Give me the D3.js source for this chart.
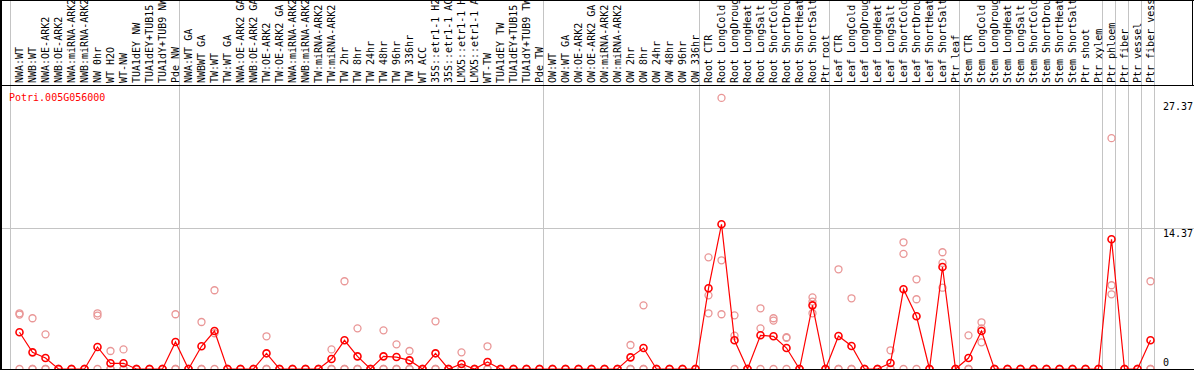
<!DOCTYPE html>
<html>
<head>
<meta charset="utf-8">
<script src="https://cdn.jsdelivr.net/npm/d3@7"></script>
<style>
  body { margin: 0; background: #fff; }
  svg { display: block; font-family: 'DejaVu Sans Mono', monospace; font-size: 10px; }
</style>
</head>
<body>
<div class="expression-chart"></div>
<script>
const geneName = 'Potri.005G056000';

const labels = [
  'NWA:WT', 'NWB:WT', 'NWA:OE-ARK2', 'NWB:OE-ARK2', 'NWA:miRNA-ARK2', 'NWB:miRNA-ARK2',
  'NW 0hr', 'WT H2O', 'WT-NW', 'TUA1dEY NW', 'TUA1dEY+TUB15 NW', 'TUA1dY+TUB9 NW', 'Pde NW',
  'NWA:WT GA', 'NWBWT GA', 'TW:WT', 'TW:WT GA', 'NWA:OE-ARK2 GA', 'NWB:OE-ARK2 GA',
  'TW:OE-ARK2', 'TW:OE-ARK2 GA', 'NWA:miRNA-ARK2', 'NWB:miRNA-ARK2', 'TW:miRNA-ARK2',
  'TW:miRNA-ARK2', 'TW 2hr', 'TW 8hr', 'TW 24hr', 'TW 48hr', 'TW 96hr', 'TW 336hr', 'WT ACC',
  '35S::etr1-1 H2O', '35S::etr1-1 ACC', 'LMX5::etr1-1 H2O', 'LMX5::etr1-1 ACC', 'WT-TW',
  'TUA1dEY TW', 'TUA1dEY+TUB15 TW', 'TUA1dY+TUB9 TW', 'Pde TW',
  'OW:WT', 'OW:WT GA', 'OW:OE-ARK2', 'OW:OE-ARK2 GA', 'OW:miRNA-ARK2', 'OW:miRNA-ARK2',
  'OW 2hr', 'OW 8hr', 'OW 24hr', 'OW 48hr', 'OW 96hr', 'OW 336hr',
  'Root CTR', 'Root LongCold', 'Root LongDrought', 'Root LongHeat', 'Root LongSalt',
  'Root ShortCold', 'Root ShortDrought', 'Root ShortHeat', 'Root ShortSalt', 'Ptr root',
  'Leaf CTR', 'Leaf LongCold', 'Leaf LongDrought', 'Leaf LongHeat', 'Leaf LongSalt',
  'Leaf ShortCold', 'Leaf ShortDrought', 'Leaf ShortHeat', 'Leaf ShortSalt', 'Ptr leaf',
  'Stem CTR', 'Stem LongCold', 'Stem LongDrought', 'Stem LongHeat', 'Stem LongSalt',
  'Stem ShortCold', 'Stem ShortDrought', 'Stem ShortHeat', 'Stem ShortSalt', 'Ptr shoot',
  'Ptr xylem', 'Ptr phloem', 'Ptr fiber', 'Ptr vessel', 'Ptr fiber vessel',
];

// mean expression per sample
const means = [
  3.75, 1.7, 1.12, 0, 0, 0, 2.25, 0.58, 0.58, 0,
  0, 0, 2.76, 0, 2.32, 3.88, 0, 0, 0, 1.6,
  0, 0, 0, 0, 1.02, 2.93, 1.29, 0, 1.29, 1.22,
  0.88, 0, 1.6, 0, 0.51, 0, 0.71, 0, 0, 0,
  0, 0, 0, 0, 0, 0, 0, 1.19, 2.14, 0,
  0, 0, 0, 8.24, 14.78, 2.93, 0, 3.44, 3.34, 2.14,
  0, 6.5, 0, 3.37, 2.35, 0, 0, 0.61, 8.14, 5.38,
  0, 10.42, 0, 1.12, 3.88, 0, 0, 0, 0, 0,
  0, 0, 0, 0, 13.25, 0, 0, 2.93,
];

// replicates
const rep1 = [
  5.69, 5.18, 3.54, 0, 0, 0, 5.69, 1.84, 2.0, 0,
  0, 0, 5.59, 0, 4.8, 8.04, 0, 0, 0, 3.34,
  0, 0, 0, 0, 2.0, 8.96, 4.15, 0, 3.95, 2.52,
  1.84, 0, 4.87, 0, 1.7, 0, 2.32, 0, 0, 0,
  0, 0, 0, 0, 0, 0, 0, 2.45, 6.5, 0,
  0, 0, 0, 11.4, 27.68, 5.48, 0, 6.2, 5.18, 3.24,
  0, 7.32, 0, 10.18, 7.22, 0, 0, 1.91, 12.94, 9.16,
  0, 11.92, 0, 3.44, 4.77, 0, 0, 0, 0, 0,
  0, 0, 0, 0, 23.57, 0, 0, 8.96,
];

const rep2 = [
  5.56, 0, 0, 0, 0, 0, 5.45, 0, 0, 0,
  0, 0, 0, 0, 0, 3.65, 0, 0, 0, 0,
  0, 0, 0, 0, 0, 0, 0, 0, 0, 0,
  0, 0, 0, 0, 0, 0, 0, 0, 0, 0,
  0, 0, 0, 0, 0, 0, 0, 0, 0, 0,
  0, 0, 0, 7.52, 11.1, 3.4, 0, 4.15, 4.94, 3.18,
  0, 6.88, 0, 0, 0, 0, 0, 0, 11.75, 7.12,
  0, 10.83, 0, 0, 4.15, 0, 0, 0, 0, 0,
  0, 0, 0, 0, 8.55, 0, 0, 0,
];

const rep3 = [
  0, 0, 0, 0, 0, 0, 0, 0, 0, 0,
  0, 0, 0, 0, 0, 0, 0, 0, 0, 0,
  0, 0, 0, 0, 0, 0, 0, 0, 0, 0,
  0, 0, 0, 0, 0, 0, 0, 0, 0, 0,
  0, 0, 0, 0, 0, 0, 0, 0, 0, 0,
  0, 0, 0, 5.69, 5.59, 0, 0, 0, 0, 0,
  0, 5.69, 0, 0, 0, 0, 0, 0, 0, 0,
  0, 8.3, 0, 0, 2.72, 0, 0, 0, 0, 0,
  0, 0, 0, 0, 7.63, 0, 0, 0,
];

// first sample of each group (separator lines go before them), last entry = end
const groupStarts = [0, 13, 41, 53, 63, 73, 84, 85, 86, 87, 88];

const yTicks = [0, 14.37, 27.37];
const yGridTicks = [14.37];

const width = 1194;
const height = 370;
const headerBottom = 85;
const plotBottom = 369;

const svg = d3.select('.expression-chart').append('svg')
  .attr('width', width)
  .attr('height', height);

const idx = d3.range(labels.length);

const x = d3.scaleBand()
  .domain(idx)
  .range([13, 13 + 13 * labels.length])
  .padding(0);

const y = d3.scaleLinear()
  .domain([0, 29])
  .range([plotBottom, headerBottom]);

const cx = (i) => x(i) + x.bandwidth() / 2;
const crisp = (v) => Math.floor(v) + 0.5;

// grid
svg.append('g')
  .selectAll('line')
  .data(groupStarts)
  .enter().append('line')
  .attr('x1', (k) => crisp(13 + 13 * k - 2.5))
  .attr('x2', (k) => crisp(13 + 13 * k - 2.5))
  .attr('y1', 0)
  .attr('y2', height)
  .style('stroke', '#c4c4c4');

svg.append('g')
  .selectAll('line')
  .data(yGridTicks)
  .enter().append('line')
  .attr('x1', 0)
  .attr('x2', width)
  .attr('y1', (d) => crisp(y(d)))
  .attr('y2', (d) => crisp(y(d)))
  .style('stroke', '#c4c4c4');

// sample labels
svg.append('g')
  .selectAll('text')
  .data(idx)
  .enter().append('text')
  .attr('transform', (i) => `translate(${cx(i) + 3},83) rotate(-90)`)
  .style('fill', '#000')
  .text((i) => labels[i]);

// y labels
svg.append('g')
  .selectAll('text')
  .data(yTicks)
  .enter().append('text')
  .attr('x', 1163)
  .attr('y', (d) => Math.min(y(d) + 9, 366))
  .style('fill', '#000')
  .text((d) => d);

svg.append('text')
  .attr('x', 9)
  .attr('y', 101)
  .style('fill', '#ff0000')
  .text(geneName);

// replicates
const reps = [rep1, rep2, rep3];
reps.forEach((rep) => {
  svg.append('g')
    .selectAll('circle')
    .data(idx)
    .enter().append('circle')
    .attr('cx', (i) => cx(i))
    .attr('cy', (i) => y(rep[i]))
    .attr('r', 3.5)
    .style('fill', 'none')
    .style('stroke', '#e99696')
    .style('stroke-width', 1.3);
});

// mean line
const line = d3.line()
  .x((i) => cx(i))
  .y((i) => y(means[i]));

svg.append('path')
  .datum(idx)
  .attr('d', line)
  .style('fill', 'none')
  .style('stroke', '#ff0000')
  .style('stroke-width', 1.2);

svg.append('g')
  .selectAll('circle')
  .data(idx)
  .enter().append('circle')
  .attr('cx', (i) => cx(i))
  .attr('cy', (i) => y(means[i]))
  .attr('r', 3.5)
  .style('fill', 'none')
  .style('stroke', '#ff0000')
  .style('stroke-width', 1.6);

// frame
const frame = svg.append('g').style('stroke', '#000');
frame.append('line').attr('x1', 0).attr('x2', width).attr('y1', 0.5).attr('y2', 0.5);
frame.append('line').attr('x1', 0).attr('x2', width).attr('y1', headerBottom + 0.5).attr('y2', headerBottom + 0.5);
frame.append('line').attr('x1', 0).attr('x2', width).attr('y1', plotBottom + 0.5).attr('y2', plotBottom + 0.5);
frame.append('line').attr('x1', 1).attr('x2', 1).attr('y1', 0).attr('y2', height).style('stroke-width', 2);
frame.append('line').attr('x1', width - 1.5).attr('x2', width - 1.5).attr('y1', 0).attr('y2', headerBottom);
</script>
</body>
</html>
